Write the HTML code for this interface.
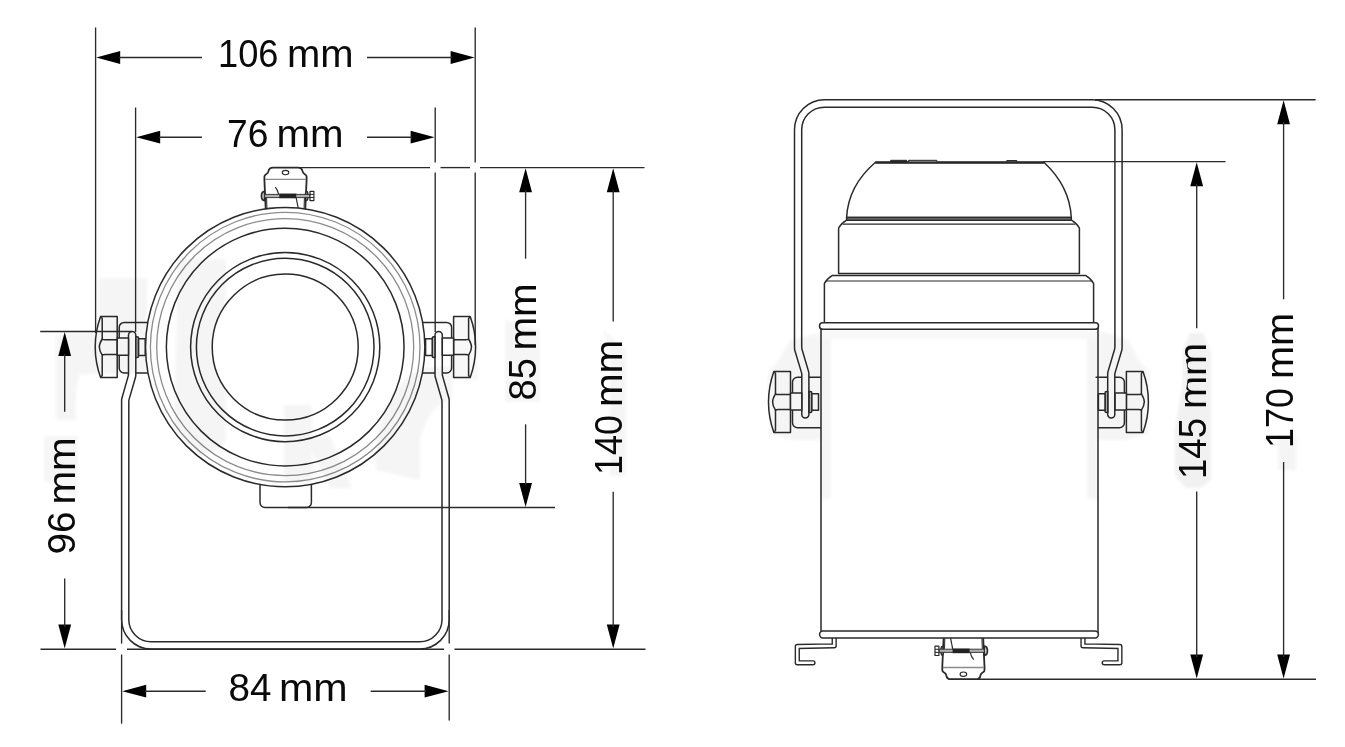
<!DOCTYPE html>
<html><head><meta charset="utf-8"><title>Dimensions</title>
<style>
html,body{margin:0;padding:0;background:#fff;}
body{width:1345px;height:747px;overflow:hidden;font-family:"Liberation Sans",sans-serif;}
svg{display:block;}
svg text{font-family:"Liberation Sans",sans-serif;fill:#0a0a0a;}
.d{stroke:#2a2a2a;stroke-width:1.35;fill:none;}
.k{stroke:#2a2a2a;stroke-width:1.5;stroke-linejoin:round;}
.k1{stroke:#2a2a2a;stroke-width:1.2;}
.g{stroke:#8c8c8c !important;stroke-width:1.3 !important;fill:none;}
</style></head>
<body>
<svg width="1345" height="747" viewBox="0 0 1345 747">
<rect x="0" y="0" width="1345" height="747" fill="#fff"/>
<g id="brLL"><path class="k" d="M148,322.4 L124.2,322.4 A5,5 0 0 0 119.2,327.4 L119.2,367.9 A5,5 0 0 0 124.2,372.9 L148,372.9" fill="#fff"/></g>
<g id="brLR" transform="translate(570.8,0) scale(-1,1)"><path class="k" d="M148,322.4 L124.2,322.4 A5,5 0 0 0 119.2,327.4 L119.2,367.9 A5,5 0 0 0 124.2,372.9 L148,372.9" fill="#fff"/></g>
<path id="yokeL" class="k" d="M128.5,335.1 L128.5,373.9 Q128.5,375 128.2,376.1 L121.9,398.2 Q121.6,399.4 121.6,400.6 L121.6,619.5 A29.5,29.5 0 0 0 151.1,649 L419.7,649 A29.5,29.5 0 0 0 449.2,619.5 L449.2,400.6 Q449.2,399.4 448.9,398.2 L442.6,376.1 Q442.3,375 442.3,373.9 L442.3,335.1 A3.65,3.65 0 0 0 435,335.1 L435,375 Q435,376.1 435.3,377.2 L441.7,399.4 Q442,400.6 442,401.8 L442,619.5 A22.3,22.3 0 0 1 419.7,641.8 L151.1,641.8 A22.3,22.3 0 0 1 128.8,619.5 L128.8,401.8 Q128.8,400.6 129.1,399.4 L135.5,377.2 Q135.8,376.1 135.8,375 L135.8,335.1 A3.65,3.65 0 0 0 128.5,335.1 Z" fill="#fff"/>
<g id="clampL"><g class="k">
<path d="M265.8,211 L264.4,180 L264.4,176.5 C264.4,174 268,174.5 268.4,171.5 C268.8,168.5 270,167.6 273,167.6 L298,167.6 C301,167.6 302.2,168.5 302.6,171.5 C303,174.5 306.6,174 306.6,176.5 L306.6,180 L305.2,211 Z" fill="#fff" stroke-width="1.8"/>
<path d="M266.6,198 L267,210 M304.4,198 L304,210" fill="none" stroke-width="1"/>
<line x1="265" y1="179.3" x2="306" y2="179.3" class="g"/>
<ellipse cx="285.5" cy="172.6" rx="3.3" ry="2.2" fill="#fff" stroke-width="1.1"/>
<path d="M275.2,187.2 C277,189 278,191.5 278.6,194.2" fill="none" stroke-width="1.2"/>
<path d="M296.2,198 L298.4,209" fill="none" stroke-width="1.2"/>
<path d="M264.6,191.4 C260.4,191.8 260.4,200.2 264.6,200.6 Z" fill="#ddd" stroke-width="1.7"/>
<ellipse cx="306.7" cy="196" rx="1.3" ry="4.4" fill="#999" stroke-width="1.5"/>
<rect x="264.6" y="194.4" width="45.4" height="3.2" fill="#b0b0b0" stroke-width="0.9"/>
<rect x="279.3" y="193.6" width="17" height="4.6" fill="#222" stroke="none"/>
<rect x="310" y="191.3" width="3.9" height="9.3" fill="#fff" stroke-width="1.2"/>
<path d="M310,194.4 L313.9,194.4 M310,197.5 L313.9,197.5" stroke-width="1"/>
</g></g>
<g id="lampL" class="k">
<path d="M260,480 L260,502.5 A5,5 0 0 0 265,507.5 L306.4,507.5 A5,5 0 0 0 311.4,502.5 L311.4,480" fill="#fff"/>
<circle cx="285.2" cy="347.1" r="139.65" fill="#fff"/>
<circle cx="285.2" cy="347.1" r="134.8" class="g"/>
<circle cx="285.2" cy="347.1" r="128.5" class="g"/>
<circle cx="285.2" cy="347.1" r="118.85" fill="none"/>
<circle cx="285.2" cy="347.1" r="94.6" fill="none"/>
<circle cx="285.2" cy="347.1" r="88.8" fill="none"/>
<circle cx="285.2" cy="347.1" r="73" fill="none"/>
</g>
<g id="knobLL"><g class="k">
<path d="M100.6,316.6 L117.2,316.6 L117.2,377.5 L100.6,377.5 C96.8,367 95.2,357 95.2,347 C95.2,337 96.8,327 100.6,316.6 Z" fill="#fff"/>
<path d="M100.6,316.6 L102.2,318.5 L102.2,339 M102.2,355.2 L102.2,375.5 L100.6,377.5" fill="none"/>
<path d="M117,339.7 L105,339.7 Q103,339.7 102.2,339 C100.4,342 99.3,344.5 99.3,347.1 C99.3,349.8 100.4,352.3 102.2,355.2 Q103,354.5 105,354.5 L117,354.5" fill="none"/>
<rect x="117.2" y="338" width="11.3" height="17.2" fill="#fff"/>
<path d="M135.8,336.7 L137,336.7 A1.6,1.6 0 0 1 138.6,338.3 L138.6,356 A1.6,1.6 0 0 1 137,357.6 L135.8,357.6 Z" fill="#b4b4b4"/>
<rect x="138.6" y="338.8" width="6.6" height="16.6" fill="#fff"/>
</g></g>
<g id="knobLR" transform="translate(570.8,0) scale(-1,1)"><g class="k">
<path d="M100.6,316.6 L117.2,316.6 L117.2,377.5 L100.6,377.5 C96.8,367 95.2,357 95.2,347 C95.2,337 96.8,327 100.6,316.6 Z" fill="#fff"/>
<path d="M100.6,316.6 L102.2,318.5 L102.2,339 M102.2,355.2 L102.2,375.5 L100.6,377.5" fill="none"/>
<path d="M117,339.7 L105,339.7 Q103,339.7 102.2,339 C100.4,342 99.3,344.5 99.3,347.1 C99.3,349.8 100.4,352.3 102.2,355.2 Q103,354.5 105,354.5 L117,354.5" fill="none"/>
<rect x="117.2" y="338" width="11.3" height="17.2" fill="#fff"/>
<path d="M135.8,336.7 L137,336.7 A1.6,1.6 0 0 1 138.6,338.3 L138.6,356 A1.6,1.6 0 0 1 137,357.6 L135.8,357.6 Z" fill="#b4b4b4"/>
<rect x="138.6" y="338.8" width="6.6" height="16.6" fill="#fff"/>
</g></g>
<g id="hookL"><path d="M834.2,636 L834.2,645.8 L797.3,646.5 L797.3,662.8 L813,662.8" fill="none" stroke="#2a2a2a" stroke-width="5.3" stroke-linecap="round" stroke-linejoin="round"/><path d="M834.2,636 L834.2,645.8 L797.3,646.5 L797.3,662.8 L813,662.8" fill="none" stroke="#fff" stroke-width="2.5" stroke-linecap="round" stroke-linejoin="round"/></g>
<g id="hookR" transform="translate(1917.2,0) scale(-1,1)"><path d="M834.2,636 L834.2,645.8 L797.3,646.5 L797.3,662.8 L813,662.8" fill="none" stroke="#2a2a2a" stroke-width="5.3" stroke-linecap="round" stroke-linejoin="round"/><path d="M834.2,636 L834.2,645.8 L797.3,646.5 L797.3,662.8 L813,662.8" fill="none" stroke="#fff" stroke-width="2.5" stroke-linecap="round" stroke-linejoin="round"/></g>
<g id="clampR" transform="translate(1248.9,846.8) rotate(180)"><g class="k">
<path d="M265.8,211 L264.4,180 L264.4,176.5 C264.4,174 268,174.5 268.4,171.5 C268.8,168.5 270,167.6 273,167.6 L298,167.6 C301,167.6 302.2,168.5 302.6,171.5 C303,174.5 306.6,174 306.6,176.5 L306.6,180 L305.2,211 Z" fill="#fff" stroke-width="1.8"/>
<path d="M266.6,198 L267,210 M304.4,198 L304,210" fill="none" stroke-width="1"/>
<line x1="265" y1="179.3" x2="306" y2="179.3" class="g"/>
<ellipse cx="285.5" cy="172.6" rx="3.3" ry="2.2" fill="#fff" stroke-width="1.1"/>
<path d="M275.2,187.2 C277,189 278,191.5 278.6,194.2" fill="none" stroke-width="1.2"/>
<path d="M296.2,198 L298.4,209" fill="none" stroke-width="1.2"/>
<path d="M264.6,191.4 C260.4,191.8 260.4,200.2 264.6,200.6 Z" fill="#ddd" stroke-width="1.7"/>
<ellipse cx="306.7" cy="196" rx="1.3" ry="4.4" fill="#999" stroke-width="1.5"/>
<rect x="264.6" y="194.4" width="45.4" height="3.2" fill="#b0b0b0" stroke-width="0.9"/>
<rect x="279.3" y="193.6" width="17" height="4.6" fill="#222" stroke="none"/>
<rect x="310" y="191.3" width="3.9" height="9.3" fill="#fff" stroke-width="1.2"/>
<path d="M310,194.4 L313.9,194.4 M310,197.5 L313.9,197.5" stroke-width="1"/>
</g></g>
<g id="lampR" class="k">
<path d="M846.6,217.5 C847.5,200 855,180 875.2,162.5 L1044.1,162.5 C1063,180 1070.4,200 1071.3,217.5 Z" fill="#fff"/>
<line x1="875.2" y1="162.5" x2="1044.1" y2="162.5" stroke-width="2.4"/>
<rect x="890.7" y="160.3" width="16.1" height="2" fill="#222" stroke-width="1"/>
<rect x="908.6" y="160.3" width="28.2" height="2" fill="#888" stroke-width="1"/>
<rect x="1006.8" y="160.5" width="10" height="1.7" fill="#555" stroke-width="1"/>
<path d="M846.6,220.2 Q841,223.5 838.6,228 L838.6,273.4 L1079.4,273.4 L1079.4,228 Q1077,223.5 1071.4,220.2" fill="#fff"/>
<rect x="846.6" y="217.5" width="224.7" height="2.7" fill="#777"/>
<line class="k1" x1="842.5" y1="224.2" x2="1075.5" y2="224.2"/>
<path d="M832.5,275.4 Q827,278.5 824.4,283.5 L824.4,322.8 L1093.6,322.8 L1093.6,283.5 Q1091,278.5 1085.5,275.4 Z" fill="#fff"/>
<line class="k1" x1="826.8" y1="281" x2="1091.2" y2="281"/>
<rect x="821" y="326" width="277" height="308" fill="#fff"/>
<rect x="819.5" y="322.8" width="279" height="6.4" rx="3.2" fill="#fff"/>
<rect x="819.6" y="631.1" width="278.8" height="6.9" rx="3.4" fill="#fff"/>
</g>
<g id="brRL" transform="translate(673.3,54.9)"><path class="k" d="M147.7,322.4 L124.2,322.4 A5,5 0 0 0 119.2,327.4 L119.2,367.9 A5,5 0 0 0 124.2,372.9 L147.7,372.9" fill="none"/></g>
<g id="brRR" transform="translate(1243.6,54.9) scale(-1,1)"><path class="k" d="M148,322.4 L124.2,322.4 A5,5 0 0 0 119.2,327.4 L119.2,367.9 A5,5 0 0 0 124.2,372.9 L145.6,372.9" fill="none"/></g>
<path id="yokeR" class="k" d="M801.8,414.5 L801.8,375 Q801.8,373.8 801.5,372.6 L794.8,350.2 Q794.5,349 794.5,347.8 L794.5,129.8 A30,30 0 0 1 824.5,99.8 L1092.1,99.8 A30,30 0 0 1 1122.1,129.8 L1122.1,347.8 Q1122.1,349 1121.8,350.2 L1115.1,372.6 Q1114.8,373.8 1114.8,375 L1114.8,414.5 A3.55,3.55 0 0 1 1107.7,414.5 L1107.7,374 Q1107.7,372.8 1108,371.6 L1114.6,349.2 Q1114.9,348 1114.9,346.8 L1114.9,129.8 A22.6,22.6 0 0 0 1092.3,107.2 L824.3,107.2 A22.6,22.6 0 0 0 801.7,129.8 L801.7,346.8 Q801.7,348 802,349.2 L808.6,371.6 Q808.9,372.8 808.9,374 L808.9,414.5 A3.55,3.55 0 0 1 801.8,414.5 Z" fill="#fff"/>
<g id="knobRL" transform="translate(673.3,54.9)"><g class="k">
<path d="M100.6,316.6 L117.2,316.6 L117.2,377.5 L100.6,377.5 C96.8,367 95.2,357 95.2,347 C95.2,337 96.8,327 100.6,316.6 Z" fill="#fff"/>
<path d="M100.6,316.6 L102.2,318.5 L102.2,339 M102.2,355.2 L102.2,375.5 L100.6,377.5" fill="none"/>
<path d="M117,339.7 L105,339.7 Q103,339.7 102.2,339 C100.4,342 99.3,344.5 99.3,347.1 C99.3,349.8 100.4,352.3 102.2,355.2 Q103,354.5 105,354.5 L117,354.5" fill="none"/>
<rect x="117.2" y="338" width="11.3" height="17.2" fill="#fff"/>
<path d="M135.8,336.7 L137,336.7 A1.6,1.6 0 0 1 138.6,338.3 L138.6,356 A1.6,1.6 0 0 1 137,357.6 L135.8,357.6 Z" fill="#b4b4b4"/>
<rect x="138.6" y="338.8" width="6.6" height="16.6" fill="#fff"/>
</g></g>
<g id="knobRR" transform="translate(1243.6,54.9) scale(-1,1)"><g class="k">
<path d="M100.6,316.6 L117.2,316.6 L117.2,377.5 L100.6,377.5 C96.8,367 95.2,357 95.2,347 C95.2,337 96.8,327 100.6,316.6 Z" fill="#fff"/>
<path d="M100.6,316.6 L102.2,318.5 L102.2,339 M102.2,355.2 L102.2,375.5 L100.6,377.5" fill="none"/>
<path d="M117,339.7 L105,339.7 Q103,339.7 102.2,339 C100.4,342 99.3,344.5 99.3,347.1 C99.3,349.8 100.4,352.3 102.2,355.2 Q103,354.5 105,354.5 L117,354.5" fill="none"/>
<rect x="117.2" y="338" width="11.3" height="17.2" fill="#fff"/>
<path d="M135.8,336.7 L137,336.7 A1.6,1.6 0 0 1 138.6,338.3 L138.6,356 A1.6,1.6 0 0 1 137,357.6 L135.8,357.6 Z" fill="#b4b4b4"/>
<rect x="138.6" y="338.8" width="6.6" height="16.6" fill="#fff"/>
</g></g>
<g id="dimsL">
<line class="d" x1="95.6" y1="27.5" x2="95.6" y2="333"/>
<line class="d" x1="475.2" y1="27.5" x2="475.2" y2="162.5"/>
<line class="d" x1="475.2" y1="172.5" x2="475.2" y2="345"/>
<polygon points="96.2,57.5 120.2,51.1 120.2,63.9" fill="#000"/>
<polygon points="474.6,57.5 450.6,51.1 450.6,63.9" fill="#000"/>
<line class="d" x1="119" y1="57.5" x2="202" y2="57.5"/>
<line class="d" x1="367" y1="57.5" x2="452" y2="57.5"/>
<text x="218" y="66.9" font-size="39" textLength="60.5" lengthAdjust="spacingAndGlyphs">106</text><text x="286.95" y="66.9" font-size="39" textLength="66.61" lengthAdjust="spacingAndGlyphs">mm</text>
<line class="d" x1="135.6" y1="107.5" x2="135.6" y2="332"/>
<line class="d" x1="435.2" y1="107.5" x2="435.2" y2="162.5"/>
<line class="d" x1="435.2" y1="172.5" x2="435.2" y2="332"/>
<polygon points="136.2,137.2 160.2,130.8 160.2,143.6" fill="#000"/>
<polygon points="434.6,137.2 410.6,130.8 410.6,143.6" fill="#000"/>
<line class="d" x1="159" y1="137.2" x2="202" y2="137.2"/>
<line class="d" x1="367" y1="137.2" x2="412" y2="137.2"/>
<text x="227.03" y="146.9" font-size="39" textLength="41.42" lengthAdjust="spacingAndGlyphs">76</text><text x="276.43" y="146.9" font-size="39" textLength="67.14" lengthAdjust="spacingAndGlyphs">mm</text>
<line class="d" x1="300" y1="167.6" x2="430" y2="167.6"/>
<line class="d" x1="440.5" y1="167.6" x2="470" y2="167.6"/>
<line class="d" x1="480" y1="167.6" x2="644.5" y2="167.6"/>
<polygon points="525.6,168.2 519.2,192.2 532,192.2" fill="#000"/>
<polygon points="525.6,506.9 519.2,482.9 532,482.9" fill="#000"/>
<line class="d" x1="525.6" y1="190" x2="525.6" y2="258.7"/>
<line class="d" x1="525.6" y1="424.3" x2="525.6" y2="485"/>
<text transform="translate(535.5,400.48) rotate(-90)" font-size="39" textLength="42.44" lengthAdjust="spacingAndGlyphs">85</text><text transform="translate(535.5,350.59) rotate(-90)" font-size="39" textLength="67.18" lengthAdjust="spacingAndGlyphs">mm</text>
<line class="d" x1="288" y1="507.5" x2="555" y2="507.5"/>
<polygon points="613.2,168.2 606.8,192.2 619.6,192.2" fill="#000"/>
<polygon points="613.2,648.6 606.8,624.6 619.6,624.6" fill="#000"/>
<line class="d" x1="613.2" y1="190" x2="613.2" y2="321.6"/>
<line class="d" x1="613.2" y1="491.7" x2="613.2" y2="627"/>
<text transform="translate(622.3,474.96) rotate(-90)" font-size="39" textLength="59.96" lengthAdjust="spacingAndGlyphs">140</text><text transform="translate(622.3,407.05) rotate(-90)" font-size="39" textLength="67.08" lengthAdjust="spacingAndGlyphs">mm</text>
<line class="d" x1="40.5" y1="649.2" x2="116" y2="649.2"/>
<line class="d" x1="127" y1="649.2" x2="444" y2="649.2"/>
<line class="d" x1="454.5" y1="649.2" x2="645.5" y2="649.2"/>
<line class="d" x1="40.2" y1="331.5" x2="131.5" y2="331.5"/>
<polygon points="64.7,332.1 58.3,356.1 71.1,356.1" fill="#000"/>
<polygon points="64.7,648.6 58.3,624.6 71.1,624.6" fill="#000"/>
<line class="d" x1="64.7" y1="354" x2="64.7" y2="411.8"/>
<line class="d" x1="64.7" y1="578.6" x2="64.7" y2="627"/>
<text transform="translate(74.5,554.55) rotate(-90)" font-size="39" textLength="43.11" lengthAdjust="spacingAndGlyphs">96</text><text transform="translate(74.5,504.57) rotate(-90)" font-size="39" textLength="67.14" lengthAdjust="spacingAndGlyphs">mm</text>
<line class="d" x1="121.6" y1="654.5" x2="121.6" y2="723.7"/>
<line class="d" x1="449.2" y1="654.5" x2="449.2" y2="720.5"/>
<line class="d" x1="121.6" y1="610" x2="121.6" y2="643.6"/>
<line class="d" x1="449.2" y1="610" x2="449.2" y2="643.6"/>
<polygon points="122.2,691.2 146.2,684.8 146.2,697.6" fill="#000"/>
<polygon points="448.6,691.2 424.6,684.8 424.6,697.6" fill="#000"/>
<line class="d" x1="145" y1="691.2" x2="205.7" y2="691.2"/>
<line class="d" x1="370.7" y1="691.2" x2="426" y2="691.2"/>
<text x="228.54" y="700.9" font-size="39" textLength="42.92" lengthAdjust="spacingAndGlyphs">84</text><text x="278.91" y="700.9" font-size="39" textLength="68.69" lengthAdjust="spacingAndGlyphs">mm</text>
</g>
<g id="dimsR">
<line class="d" x1="1095" y1="99.7" x2="1315.6" y2="99.7"/>
<polygon points="1283.6,100.3 1277.2,124.3 1290,124.3" fill="#000"/>
<polygon points="1283.6,678.6 1277.2,654.6 1290,654.6" fill="#000"/>
<line class="d" x1="1283.6" y1="122" x2="1283.6" y2="299.3"/>
<line class="d" x1="1283.6" y1="462" x2="1283.6" y2="657"/>
<text transform="translate(1292.7,447.97) rotate(-90)" font-size="39" textLength="59.96" lengthAdjust="spacingAndGlyphs">170</text><text transform="translate(1292.7,379.02) rotate(-90)" font-size="39" textLength="66.07" lengthAdjust="spacingAndGlyphs">mm</text>
<line class="d" x1="1043" y1="161.6" x2="1225.6" y2="161.6"/>
<polygon points="1196.7,162.2 1190.3,186.2 1203.1,186.2" fill="#000"/>
<polygon points="1196.7,678.6 1190.3,654.6 1203.1,654.6" fill="#000"/>
<line class="d" x1="1196.7" y1="184" x2="1196.7" y2="328.2"/>
<line class="d" x1="1196.7" y1="491.5" x2="1196.7" y2="657"/>
<text transform="translate(1206.1,478.99) rotate(-90)" font-size="39" textLength="60.98" lengthAdjust="spacingAndGlyphs">145</text><text transform="translate(1206.1,409.02) rotate(-90)" font-size="39" textLength="66.07" lengthAdjust="spacingAndGlyphs">mm</text>
<line class="d" x1="978" y1="679.2" x2="1316" y2="679.2"/>
</g>
<defs><filter id="bl" x="-20%" y="-20%" width="140%" height="140%"><feGaussianBlur stdDeviation="1.4"/></filter></defs>
<g id="wm" fill="#f5f5f5" stroke="none" filter="url(#bl)" style="mix-blend-mode:multiply">
<path d="M98,278 L147,278 L147,374 L98,374 Z"/>
<path d="M56,336 Q70,331 98,333 L98,374 L80,374 Q74,392 76,420 L56,420 Z"/>
<path d="M178,259 L226,259 L226,306 Q212,330 212,347 Q212,366 226,390 L226,440 Q215,458 196,452 L174,430 Z"/>
<path d="M284,405 L312,405 L312,436 L330,436 L352,488 L330,488 L312,452 L312,482 L284,482 Z"/>
<path d="M376,470 Q372,400 420,368 L452,366 L452,400 Q430,402 420,440 L420,480 Z"/>
<path d="M453,318 L478,318 L478,380 L453,380 Z" fill="#f8f8f8"/>
<path d="M768,372 L778,362 L790,340 L821,333 L831,336 L831,498 L821,500 L821,440 L792,440 L770,434 Z"/>
<path d="M1150,372 L1140,362 L1128,340 L1097,330 L1087,336 L1087,498 L1097,500 L1097,440 L1126,440 L1148,434 Z"/>
<path d="M822,330 L1097,330 L1097,339 L822,339 Z" fill="#f8f8f8"/>
<path d="M1190,333 L1203,333 L1211,352 L1211,480 L1200,488 L1186,488 L1175,476 L1175,430 L1183,380 L1183,350 Z" fill="#f1f1f1"/>
<path d="M1278,436 L1296,436 L1296,470 L1278,470 Z" fill="#f5f5f5"/>
<path d="M603,330 L626,350 L626,476 L610,476 L610,350 Z" fill="#f5f5f5"/>
<path d="M505,320 L540,330 L540,402 L505,402 Z" fill="#f6f6f6"/>
<path d="M44,436 L78,436 L78,500 L44,480 Z" fill="#f6f6f6"/>
</g>
<path d="M1183,358 L1185,358 Q1187.6,364 1187.8,373 Q1187.6,384 1185.5,392 L1183,392 Z" fill="#f3f3f3"/>
</svg>
</body></html>
